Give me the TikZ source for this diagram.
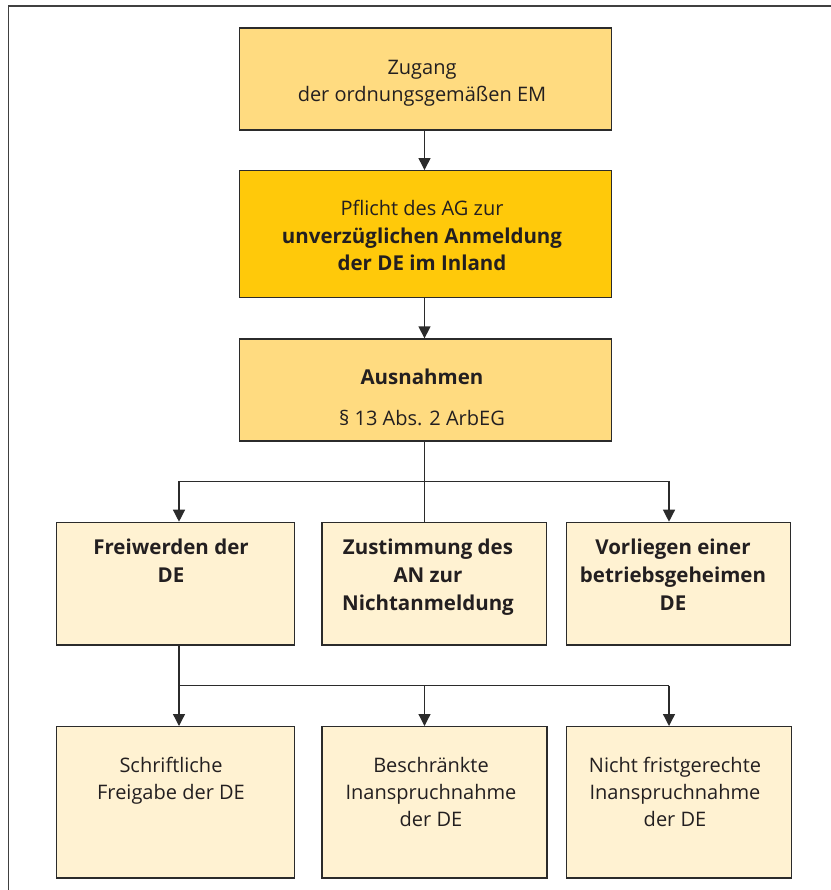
\documentclass[tikz,border=0pt]{standalone}
\usepackage{fontspec}
\setmainfont{Open Sans}
\usetikzlibrary{arrows.meta}
\definecolor{txt}{HTML}{231F20}
\definecolor{edge}{HTML}{2B2B2B}
\definecolor{fillA}{HTML}{FFDB80}
\definecolor{fillB}{HTML}{FFC90A}
\definecolor{fillC}{HTML}{FFF2D2}
\tikzset{
  box/.style={draw=edge, line width=1.3pt, inner sep=0pt},
  lab/.style={anchor=base, inner sep=0pt, text=txt, font=\fontsize{20}{27}\selectfont},
  blab/.style={lab, font=\fontsize{20.5}{27}\selectfont\bfseries},
  conn/.style={draw=edge, line width=1.3pt},
  arr/.style={conn, -{Triangle[length=12pt,width=12pt]}},
  frame/.style={draw=edge!90, line width=1.6pt}
}
\begin{document}
\begin{tikzpicture}[x=1pt,y=-1pt]
\useasboundingbox (0,0) rectangle (830,890);
\draw[frame] (832,6) -- (8.5,6) -- (8.5,892);
% top column
\node[box, fill=fillA, minimum width=372pt, minimum height=102pt] (b1) at (425.5,79) {};
\node[box, fill=fillB, minimum width=372pt, minimum height=127pt] (b2) at (425.5,234.2) {};
\node[box, fill=fillA, minimum width=372pt, minimum height=102pt] (b3) at (425.5,390) {};
% row 2
\node[box, fill=fillC, minimum width=238pt, minimum height=122.7pt] (a) at (175.7,583.7) {};
\node[box, fill=fillC, minimum width=224.5pt, minimum height=122.7pt] (b) at (434.3,583.7) {};
\node[box, fill=fillC, minimum width=224pt, minimum height=122.7pt] (c) at (678.6,583.7) {};
% row 3
\node[box, fill=fillC, minimum width=238pt, minimum height=151.3pt] (d) at (175.7,802.3) {};
\node[box, fill=fillC, minimum width=225pt, minimum height=151.3pt] (e) at (434.6,802.3) {};
\node[box, fill=fillC, minimum width=225pt, minimum height=151.3pt] (f) at (679.2,802.3) {};
% texts
\node[lab] (t1a) at (422,74.7) {Zugang};
\node[lab] (t1b) at (422,101.3) {der ordnungsgemäßen EM};
\node[lab] (t2a) at (422,216) {Pflicht des AG zur};
\node[blab] (t2b) at (422,243.5) {unverzüglichen Anmeldung};
\node[blab] (t2c) at (422,270) {der DE im Inland};
\node[blab] (t3a) at (422,384.3) {Ausnahmen};
\node[lab] (t3b) at (422,425) {§ 13 Abs. 2 ArbEG};
\node[blab] (ta1) at (171,554) {Freiwerden der};
\node[blab] (ta2) at (171,582) {DE};
\node[blab] (tb1) at (428,554) {Zustimmung des};
\node[blab] (tb2) at (428,582) {AN zur};
\node[blab] (tb3) at (428,610) {Nichtanmeldung};
\node[blab] (tc1) at (673,554) {Vorliegen einer};
\node[blab] (tc2) at (673,582) {betriebsgeheimen};
\node[blab] (tc3) at (673,610) {DE};
\node[lab] (td1) at (171,772) {Schriftliche};
\node[lab] (td2) at (171,799) {Freigabe der DE};
\node[lab] (te1) at (431,772) {Beschränkte};
\node[lab] (te2) at (431,799) {Inanspruchnahme};
\node[lab] (te3) at (431,826) {der DE};
\node[lab] (tf1) at (675,772) {Nicht fristgerechte};
\node[lab] (tf2) at (675,799) {Inanspruchnahme};
\node[lab] (tf3) at (675,826) {der DE};
% connectors
\coordinate (s) at (424.5,0);
\coordinate (j1) at (424.5,481.7);
\coordinate (j1l) at (179,481.7);
\coordinate (j1r) at (669,481.7);
\coordinate (j2) at (179,685.7);
\coordinate (j2m) at (424.5,685.7);
\coordinate (j2r) at (669,685.7);
\draw[arr] (s |- b1.south) -- (s |- b2.north);
\draw[arr] (s |- b2.south) -- (s |- b3.north);
\draw[conn] (s |- b3.south) -- (s |- b.north);
\draw[arr] (j1) -- (j1l) -- (j1l |- a.north);
\draw[arr] (j1) -- (j1r) -- (j1r |- c.north);
\draw[arr] (j1l |- a.south) -- (j2 |- d.north);
\draw[conn] (j2) -- (j2r);
\draw[arr] (j2m) -- (j2m |- e.north);
\draw[arr] (j2r) -- (j2r |- f.north);
\end{tikzpicture}
\end{document}
